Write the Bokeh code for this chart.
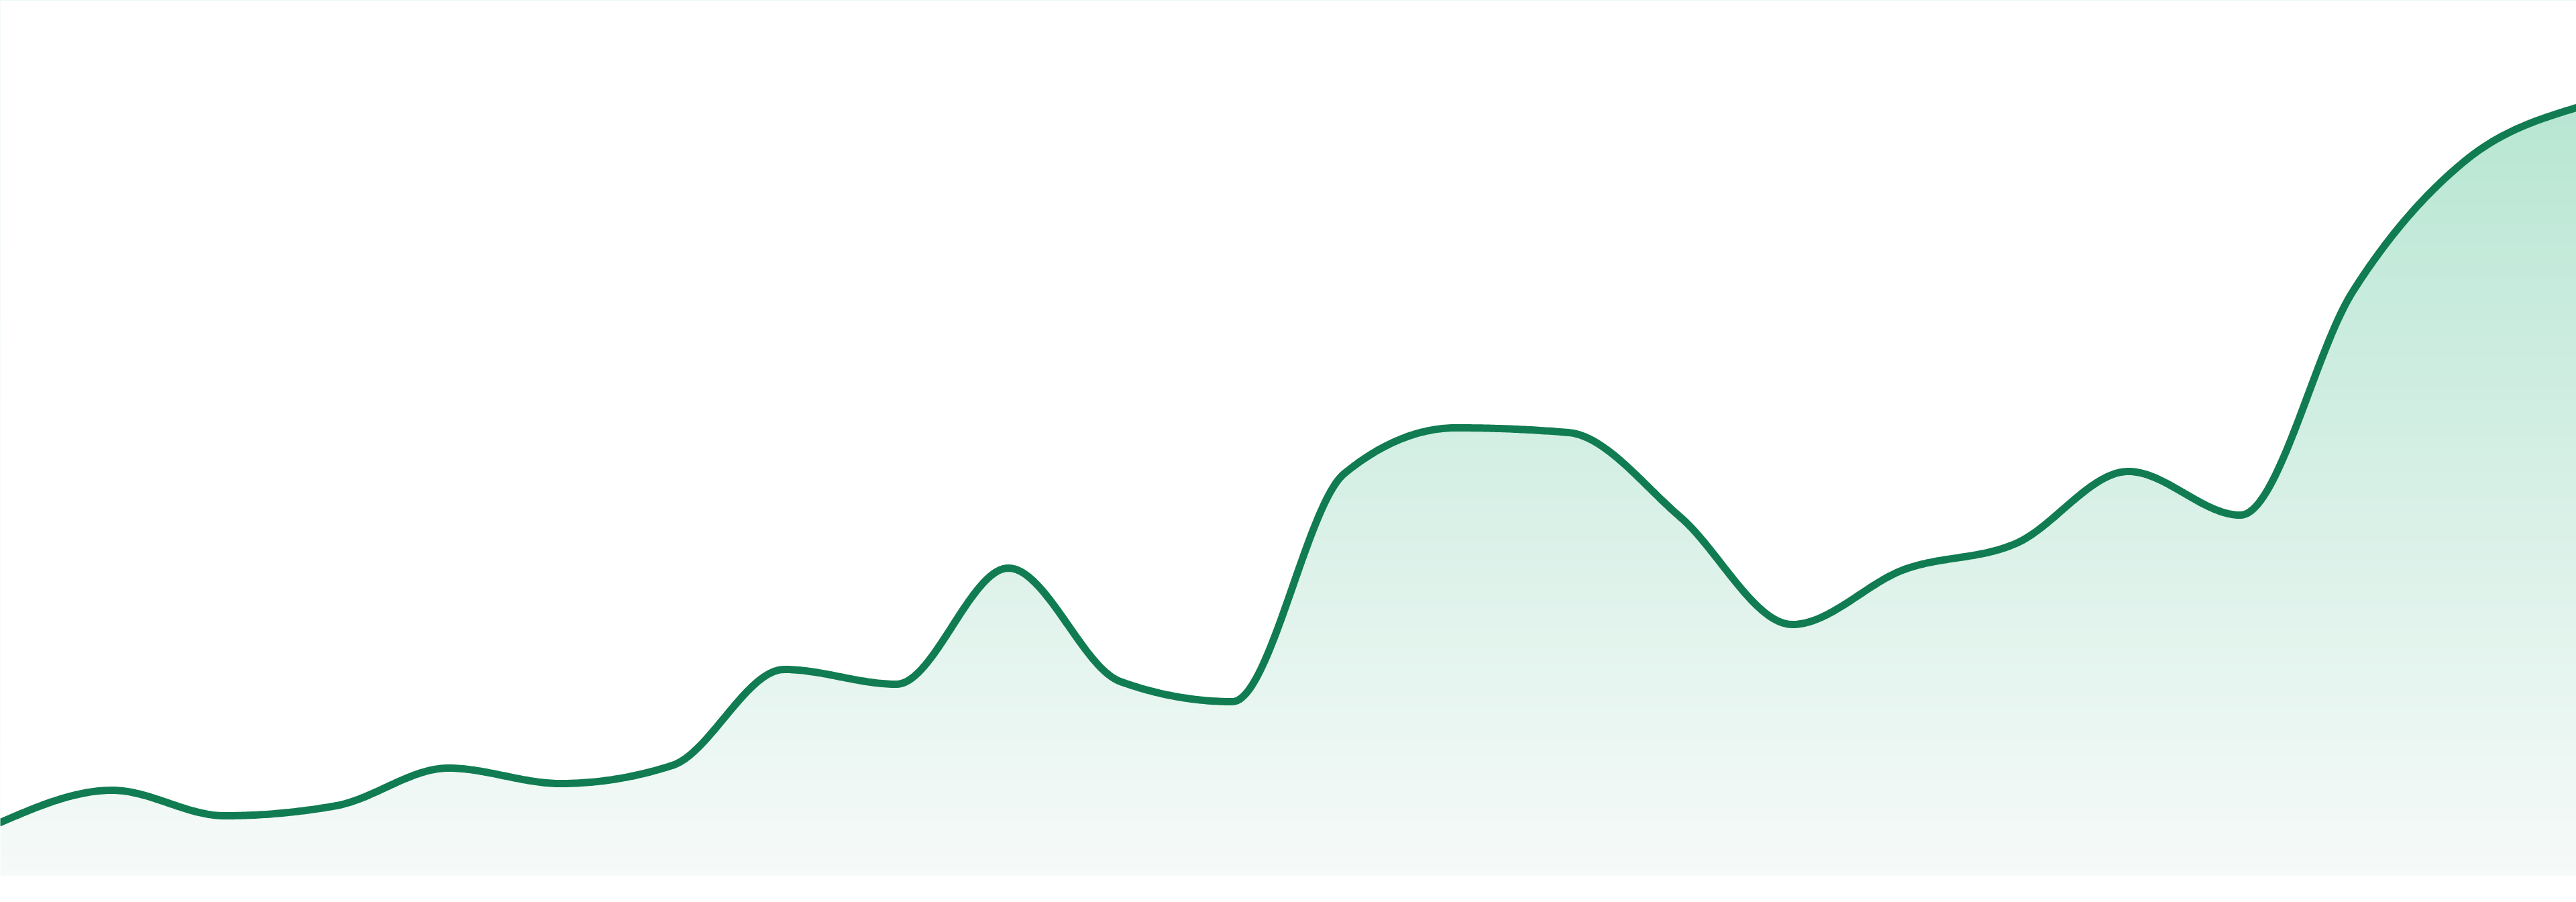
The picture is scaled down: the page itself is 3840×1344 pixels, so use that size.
import numpy as np

from bokeh.plotting import figure
from bokeh.models import Range1d, GlobalInlineStyleSheet
from bokeh.embed import file_html
from bokeh.resources import INLINE

# one reading per step, baseline of the area is 0
steps = list(range(24))
values = [80, 128, 90, 105, 161, 138, 165, 308, 286, 459, 290, 260,
          600, 668, 661, 535, 375, 457, 496, 603, 538, 870, 1065, 1145]

LINE_COLOR = "#117c52"
TOP_RGB = np.array([184, 230, 211])     # fill colour at the highest value
BOTTOM_RGB = np.array([246, 250, 249])  # fill colour at the baseline


def monotone_x(xs, ys, n=48):
    """Sample a monotone cubic (d3 curveMonotoneX style) through the points."""
    x = np.asarray(xs, float)
    y = np.asarray(ys, float)
    h = np.diff(x)
    s = np.diff(y) / h
    t = np.zeros(len(x))
    for i in range(1, len(x) - 1):
        p = (s[i - 1] * h[i] + s[i] * h[i - 1]) / (h[i - 1] + h[i])
        sg = (1 if s[i - 1] >= 0 else -1) + (1 if s[i] >= 0 else -1)
        t[i] = sg * min(abs(s[i - 1]), abs(s[i]), 0.5 * abs(p))
    t[0] = (3 * s[0] - t[1]) / 2
    t[-1] = (3 * s[-1] - t[-2]) / 2

    out_x, out_y = [x[0]], [y[0]]
    u = np.linspace(0, 1, n + 1)[1:]
    for i in range(len(x) - 1):
        dx = h[i] / 3
        p0 = (x[i], y[i])
        p1 = (x[i] + dx, y[i] + dx * t[i])
        p2 = (x[i + 1] - dx, y[i + 1] - dx * t[i + 1])
        p3 = (x[i + 1], y[i + 1])
        a, b, c, d = (1 - u) ** 3, 3 * (1 - u) ** 2 * u, 3 * (1 - u) * u ** 2, u ** 3
        out_x.extend(a * p0[0] + b * p1[0] + c * p2[0] + d * p3[0])
        out_y.extend(a * p0[1] + b * p1[1] + c * p2[1] + d * p3[1])
    return np.array(out_x), np.array(out_y)


sx, sy = monotone_x(steps, values)

# edge to edge, like the original sparkline card
y_top = 1305
y_bottom = -39
page_css = GlobalInlineStyleSheet(css="body { margin: 0; overflow: hidden; }")

p = figure(width=3840, height=1344, output_backend="svg", toolbar_location=None,
           x_range=Range1d(steps[0], steps[-1]),
           y_range=Range1d(y_bottom, y_top),
           x_axis_type=None, y_axis_type=None, min_border=0, tools="")
p.stylesheets = [page_css]
p.grid.visible = False
p.outline_line_color = None
p.background_fill_color = "white"
p.border_fill_color = "white"

# vertical gradient under the curve: an image, then white mask above the line
rows = np.arange(0, y_top + 1)
frac = np.clip((max(values) - rows) / max(values), 0, 1)
rgb = TOP_RGB[None, :] + (BOTTOM_RGB - TOP_RGB)[None, :] * frac[:, None]
img = np.empty((len(rows), 2), dtype=np.uint32)
view = img.view(dtype=np.uint8).reshape((len(rows), 2, 4))
for k in range(3):
    view[:, :, k] = np.round(rgb[:, k])[:, None]
view[:, :, 3] = 255
p.image_rgba(image=[img], x=steps[0], y=0, dw=steps[-1] - steps[0], dh=len(rows))

p.varea(x=sx, y1=sy, y2=y_top + 20, fill_color="white")
p.line(sx, sy, line_color=LINE_COLOR, line_width=11, line_join="round", line_cap="round")

open("out.html", "w").write(file_html(p, INLINE))
